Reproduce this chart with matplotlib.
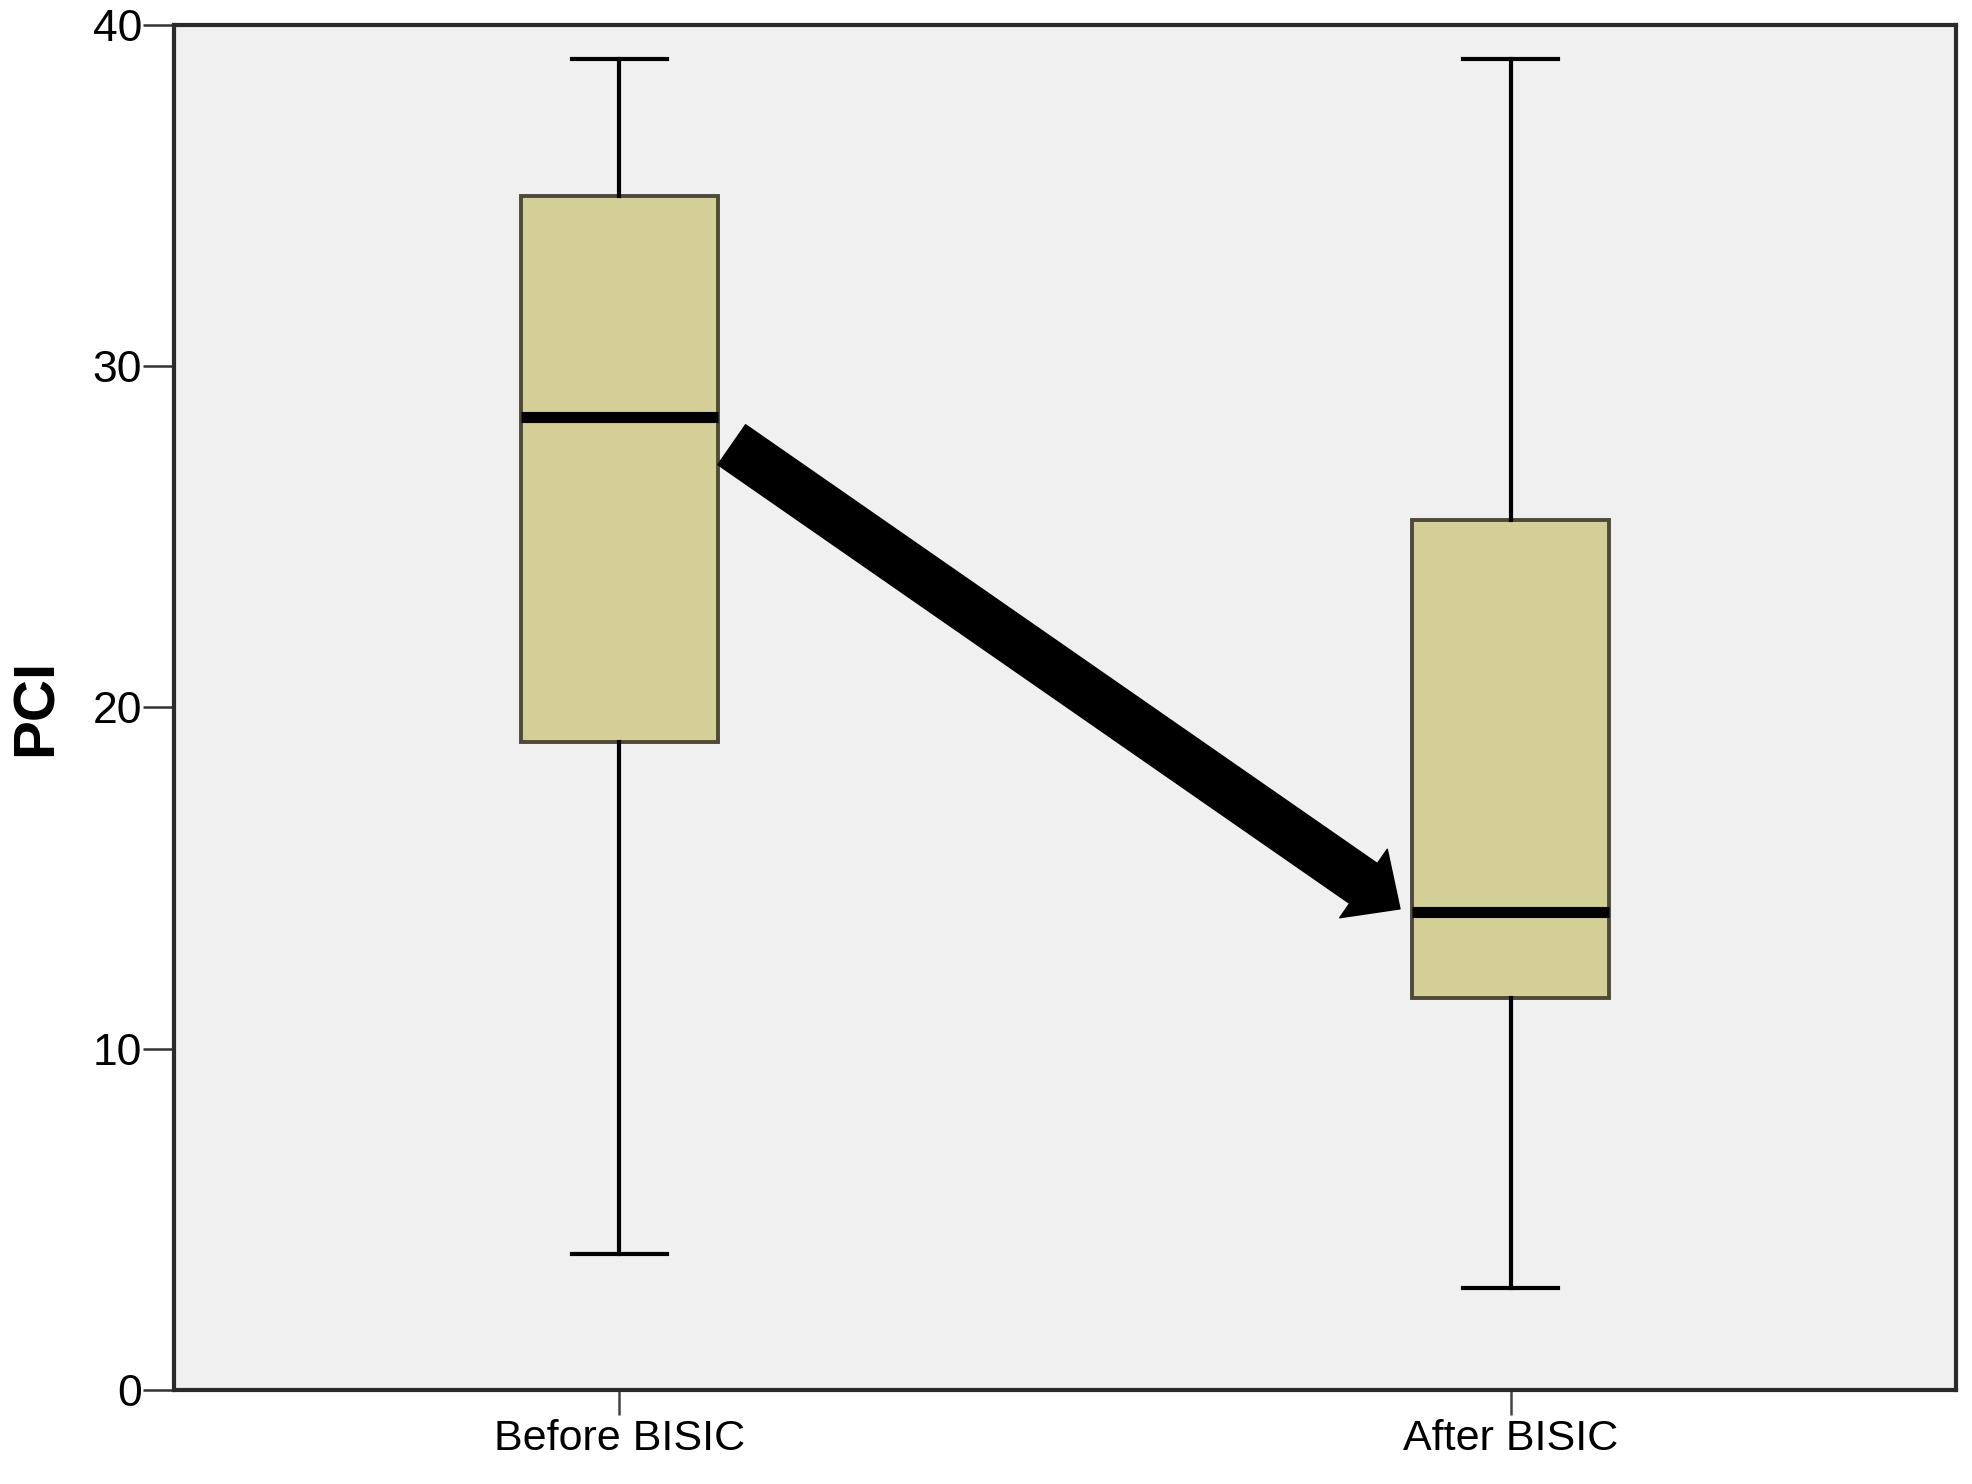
import matplotlib
matplotlib.use("Agg")
import matplotlib.pyplot as plt
from matplotlib.patches import FancyArrowPatch

plt.rcParams["font.family"] = ["Liberation Sans", "DejaVu Sans"]

groups = ["Before BISIC", "After BISIC"]
whis_low = [4, 3]
q1 = [19, 11.5]
median = [28.5, 14]
q3 = [35, 25.5]
whis_high = [39, 39]

# arrow from the "before" median down to the "after" median
arrow_start = (1.126, 27.7)
arrow_end = (1.876, 14.1)

stats = []
for name, lo, a, m, b, hi in zip(groups, whis_low, q1, median, q3, whis_high):
    stats.append(dict(label=name, whislo=lo, q1=a, med=m, q3=b, whishi=hi, fliers=[]))

fig = plt.figure(figsize=(19.72, 14.84), dpi=100)
ax = fig.add_axes([0.0882, 0.0633, 0.9037, 0.9199])
ax.set_facecolor("#F0F0F0")

ax.bxp(stats, positions=[1, 2], widths=0.222, capwidths=0.107,
       patch_artist=True, showfliers=False,
       boxprops=dict(facecolor="#D4CF96", edgecolor="#4F4A38", linewidth=2.8),
       medianprops=dict(color="black", linewidth=8, solid_capstyle="butt"),
       whiskerprops=dict(color="black", linewidth=3),
       capprops=dict(color="black", linewidth=3))

arrow = FancyArrowPatch(arrow_start, arrow_end,
                        arrowstyle="simple,head_width=60,head_length=32,tail_width=35",
                        mutation_scale=1, shrinkA=0, shrinkB=0,
                        color="black", zorder=5)
ax.add_patch(arrow)

ax.set_xlim(0.5, 2.5)
ax.set_ylim(0, 40)
ax.set_yticks([0, 10, 20, 30, 40])
ax.set_xticks([1, 2])
ax.set_xticklabels(groups)

for s in ax.spines.values():
    s.set_color("#2A2A2A")
    s.set_linewidth(3)

ax.tick_params(axis="y", length=22, width=1.8, color="#333333", pad=1, labelsize=32)
ax.tick_params(axis="x", length=18, width=1.8, color="#444444", pad=3, labelsize=31)

ax.set_ylabel("PCI", fontsize=42, fontweight="bold")
ax.yaxis.set_label_coords(-0.062, 0.5)

fig.savefig("out.png", dpi=100)
